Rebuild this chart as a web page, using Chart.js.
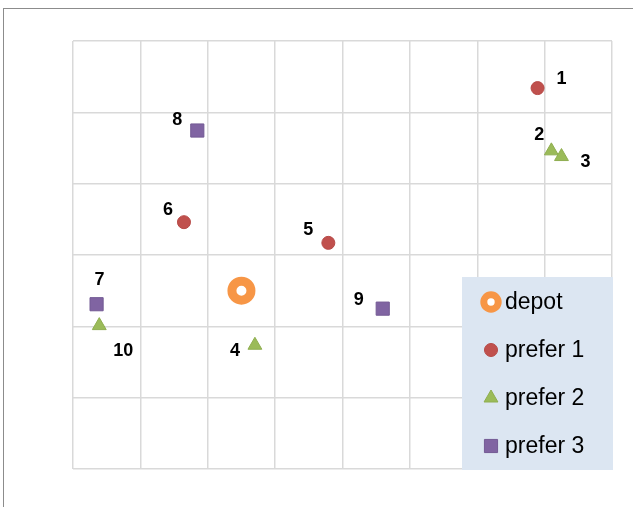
<!DOCTYPE html>
<html>
<head>
<meta charset="utf-8">
<script src="https://cdn.jsdelivr.net/npm/chart.js@4/dist/chart.umd.min.js"></script>
<style>
  body { margin: 0; background: #fff; overflow: hidden; }
  #frame { position: absolute; left: 3px; top: 8px; width: 700px; height: 600px; border: 1.5px solid #8c8c8c; }
  #chart { position: absolute; left: 0; top: 0; }
</style>
</head>
<body>
<div id="frame"></div>
<canvas id="chart" width="633" height="507"></canvas>
<script>
// series names
const seriesNames = ['depot', 'prefer 1', 'prefer 2', 'prefer 3'];

// depot
const depotX = [2.5];
const depotY = [2.5];

// prefer 1 : points 1, 5, 6
const prefer1X = [6.895, 3.79, 1.647];
const prefer1Y = [5.34, 3.17, 3.46];
const prefer1Labels = ['1', '5', '6'];

// prefer 2 : points 2, 3, 4, 10
const prefer2X = [7.10, 7.25, 2.70, 0.39];
const prefer2Y = [4.46, 4.38, 1.735, 2.01];
const prefer2Labels = ['2', '3', '4', '10'];

// prefer 3 : points 7, 8, 9
const prefer3X = [0.35, 1.845, 4.597];
const prefer3Y = [2.31, 4.745, 2.248];
const prefer3Labels = ['7', '8', '9'];

// axis range (no tick labels shown)
const xMax = 8;
const yMax = 6;

// where each number label sits relative to its marker (px)
const labelOffsets = {
    '1': [24, -9], '5': [-20, -13], '6': [-16, -12],
    '2': [-12, -16], '3': [24, 5], '4': [-20, 6], '10': [24, 25],
    '7': [3, -24], '8': [-20, -10], '9': [-24, -9]
};

function toPoints(xs, ys) {
    return xs.map((x, i) => ({ x: x, y: ys[i] }));
}

// Dessine les numéros à côté des points
const pointLabelsPlugin = {
    id: 'pointLabels',
    afterDatasetsDraw(chart) {
        const ctx = chart.ctx;
        ctx.save();
        ctx.font = 'bold 18px "Liberation Sans", Arial, sans-serif';
        ctx.fillStyle = '#000';
        ctx.textAlign = 'center';
        ctx.textBaseline = 'middle';
        chart.data.datasets.forEach((ds, i) => {
            if (!ds.pointLabels) return;
            const meta = chart.getDatasetMeta(i);
            meta.data.forEach((el, j) => {
                const txt = ds.pointLabels[j];
                const off = labelOffsets[txt] || [0, 0];
                ctx.fillText(txt, el.x + off[0], el.y + off[1]);
            });
        });
        ctx.restore();
    }
};

// Légende dessinée à l'intérieur de la zone du graphique
const insideLegendPlugin = {
    id: 'insideLegend',
    afterDraw(chart) {
        const ctx = chart.ctx;
        const area = chart.chartArea;
        const w = 151, h = 193;
        const left = area.right + 1 - w;
        const top = area.bottom + 1 - h;
        ctx.save();
        ctx.fillStyle = '#dce6f2';
        ctx.fillRect(left, top, w, h);

        ctx.font = '23px "Liberation Sans", Arial, sans-serif';
        ctx.textBaseline = 'middle';
        ctx.textAlign = 'left';
        chart.data.datasets.forEach((ds, i) => {
            const y = top + 25 + i * 48;
            const x = left + 29;
            ctx.fillStyle = ds.backgroundColor;
            ctx.strokeStyle = ds.borderColor;
            const opts = {
                pointStyle: ds.pointStyle,
                radius: ds.legendRadius,
                rotation: 0,
                borderWidth: ds.legendBorderWidth
            };
            ctx.lineWidth = opts.borderWidth;
            Chart.helpers.drawPoint(ctx, opts, x, y);
            ctx.fillStyle = '#000';
            ctx.fillText(ds.label, left + 43, y + 1);
        });
        ctx.restore();
    }
};

const ctx = document.getElementById('chart').getContext('2d');
new Chart(ctx, {
    type: 'scatter',
    data: {
        datasets: [
            {
                label: seriesNames[0],
                data: toPoints(depotX, depotY),
                pointStyle: 'circle',
                pointRadius: 9.5,
                pointBorderWidth: 9,
                backgroundColor: '#ffffff',
                borderColor: '#f79646',
                legendRadius: 7.2,
                legendBorderWidth: 7
            },
            {
                label: seriesNames[1],
                data: toPoints(prefer1X, prefer1Y),
                pointLabels: prefer1Labels,
                pointStyle: 'circle',
                pointRadius: 6.5,
                pointBorderWidth: 1,
                backgroundColor: '#c0504d',
                borderColor: '#b64946',
                legendRadius: 6.5,
                legendBorderWidth: 1
            },
            {
                label: seriesNames[2],
                data: toPoints(prefer2X, prefer2Y),
                pointLabels: prefer2Labels,
                pointStyle: 'triangle',
                pointRadius: 8,
                pointBorderWidth: 1,
                backgroundColor: '#9bbb59',
                borderColor: '#8fae50',
                legendRadius: 8,
                legendBorderWidth: 1
            },
            {
                label: seriesNames[3],
                data: toPoints(prefer3X, prefer3Y),
                pointLabels: prefer3Labels,
                pointStyle: 'rect',
                pointRadius: 9.3,
                pointBorderWidth: 1,
                backgroundColor: '#8064a2',
                borderColor: '#735a94',
                legendRadius: 9.3,
                legendBorderWidth: 1
            }
        ]
    },
    options: {
        responsive: false,
        animation: false,
        devicePixelRatio: 1,
        layout: {
            padding: { left: 73, top: 41, right: 21, bottom: 38 }
        },
        plugins: {
            legend: { display: false },
            tooltip: { enabled: false }
        },
        scales: {
            x: {
                type: 'linear',
                min: 0,
                max: xMax,
                ticks: { display: false, stepSize: 1 },
                grid: { color: '#d9d9d9', lineWidth: 1.5, drawTicks: false },
                border: { display: false }
            },
            y: {
                type: 'linear',
                min: 0,
                max: yMax,
                ticks: { display: false, stepSize: 1 },
                grid: { color: '#d9d9d9', lineWidth: 1.5, drawTicks: false },
                border: { display: false }
            }
        }
    },
    plugins: [pointLabelsPlugin, insideLegendPlugin]
});
</script>
</body>
</html>
